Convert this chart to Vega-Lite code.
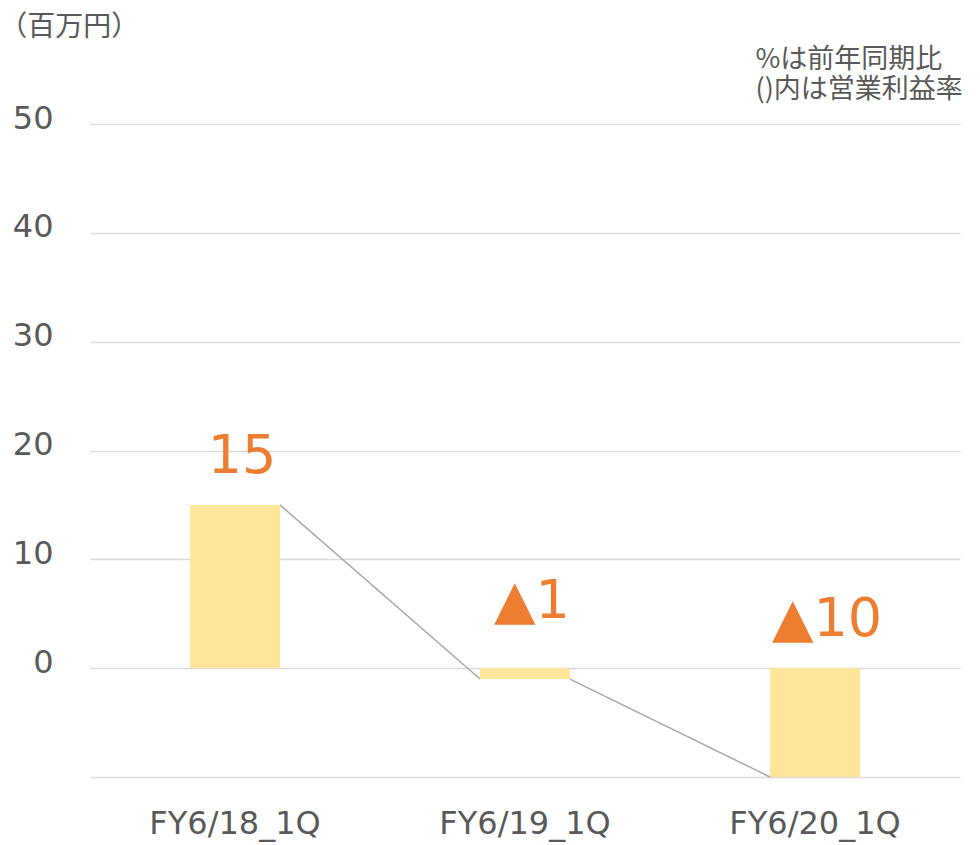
{
  "$schema": "https://vega.github.io/schema/vega-lite/v6.json",
  "autosize": "none",
  "width": 870,
  "height": 653,
  "padding": {"left": 90, "top": 124, "right": 20, "bottom": 68},
  "background": "white",
  "config": {"view": {"stroke": null}, "font": "DejaVu Sans"},
  "title": {
    "text": "（百万円）",
    "anchor": "start",
    "frame": "bounds",
    "dx": -13,
    "offset": 3,
    "font": "Noto Sans CJK JP",
    "fontSize": 28,
    "fontWeight": "normal",
    "color": "#595959"
  },
  "data": {
    "values": [
      {"cat": "FY6/18_1Q", "value": 15, "label": "15", "next": "FY6/19_1Q", "nextValue": -1},
      {"cat": "FY6/19_1Q", "value": -1, "label": "▲1", "next": "FY6/20_1Q", "nextValue": -10},
      {"cat": "FY6/20_1Q", "value": -10, "label": "▲10", "next": null, "nextValue": null}
    ]
  },
  "layer": [
    {
      "mark": {"type": "bar", "color": "#FFE699", "width": {"band": 0.31}},
      "encoding": {
        "x": {
          "field": "cat", "type": "nominal", "sort": null,
          "scale": {"type": "band", "paddingInner": 0, "paddingOuter": 0},
          "axis": {
            "title": null, "domain": false, "ticks": false, "labelAngle": 0,
            "labelFontSize": 32, "labelColor": "#595959", "labelPadding": 31,
            "labelFont": "DejaVu Sans"
          }
        },
        "y": {
          "field": "value", "type": "quantitative",
          "scale": {"domain": [-10, 50], "nice": false, "zero": false},
          "axis": {
            "values": [-10, 0, 10, 20, 30, 40, 50],
            "labelExpr": "datum.value < 0 ? '' : datum.label",
            "grid": true, "gridColor": "#D9D9D9", "gridWidth": 1.5,
            "domain": false, "ticks": false, "tickSize": 0,
            "labelFontSize": 32, "labelColor": "#595959", "labelPadding": 37,
            "labelOffset": -6,
            "labelFont": "DejaVu Sans",
            "title": ["%は前年同期比", "()内は営業利益率"],
            "titleAngle": 0, "titleAlign": "left", "titleBaseline": "alphabetic",
            "titleX": 665, "titleY": -57, "titleLineHeight": 30,
            "titleFont": "Noto Sans CJK JP", "titleFontSize": 27,
            "titleFontWeight": "normal", "titleColor": "#595959"
          }
        },
        "y2": {"datum": 0}
      }
    },
    {
      "transform": [{"filter": "datum.next != null"}],
      "mark": {"type": "rule", "color": "#A6A6A6", "strokeWidth": 1.5},
      "encoding": {
        "x": {"field": "cat", "type": "nominal", "sort": null, "bandPosition": 0.655},
        "x2": {"field": "next", "bandPosition": 0.345},
        "y": {"field": "value", "type": "quantitative"},
        "y2": {"field": "nextValue"}
      }
    },
    {
      "transform": [{"filter": "datum.value >= 0"}],
      "mark": {"type": "text", "color": "#ED7D31", "fontSize": 54, "font": "DejaVu Sans", "baseline": "alphabetic", "align": "center", "dx": 7, "dy": -32},
      "encoding": {
        "x": {"field": "cat", "type": "nominal", "sort": null},
        "y": {"field": "value", "type": "quantitative"},
        "text": {"field": "label"}
      }
    },
    {
      "transform": [{"filter": "datum.value < -5"}],
      "mark": {"type": "text", "color": "#ED7D31", "fontSize": 54, "font": "DejaVu Sans", "baseline": "alphabetic", "align": "center", "dx": 12, "dy": -32},
      "encoding": {
        "x": {"field": "cat", "type": "nominal", "sort": null},
        "y": {"datum": 0, "type": "quantitative"},
        "text": {"field": "label"}
      }
    },
    {
      "transform": [{"filter": "datum.value < 0 && datum.value >= -5"}],
      "mark": {"type": "text", "color": "#ED7D31", "fontSize": 54, "font": "DejaVu Sans", "baseline": "alphabetic", "align": "center", "dx": 7, "dy": -50},
      "encoding": {
        "x": {"field": "cat", "type": "nominal", "sort": null},
        "y": {"datum": 0, "type": "quantitative"},
        "text": {"field": "label"}
      }
    }
  ]
}
